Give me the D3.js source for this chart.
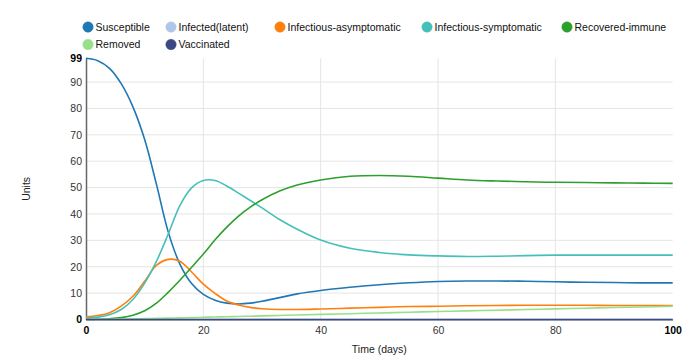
<!DOCTYPE html>
<html><head><meta charset="utf-8">
<script src="https://cdn.jsdelivr.net/npm/d3@7/dist/d3.min.js"></script>
<style>
html,body{margin:0;padding:0;background:#fff;}
svg{display:block;font-family:"Liberation Sans",Arial,sans-serif;}
</style></head>
<body><svg id="chart" width="700" height="364"></svg>
<script>
// ---- data ----
const days = [0,2,4,6,8,10,12,14,16,18,20,22,24,26,28,30,33,36,40,45,50,55,60,65,70,75,80,85,90,95,100];
const seriesNames = ["Susceptible","Infected(latent)","Infectious-asymptomatic","Infectious-symptomatic","Recovered-immune","Removed","Vaccinated"];
const susceptible   = [99,98.1,95.2,89.4,80.6,68.2,51.3,33.3,21.0,13.6,9.5,7.3,6.2,5.9,6.2,6.9,8.3,9.7,11.0,12.2,13.2,13.9,14.4,14.6,14.6,14.5,14.3,14.1,14.0,13.9,13.9];
const latent        = [0,0,0,0,0,0,0,0,0,0,0,0,0,0,0,0,0,0,0,0,0,0,0,0,0,0,0,0,0,0,0];
const asymptomatic  = [1.0,1.5,2.6,5.1,8.8,14.5,20.5,22.8,22.1,18.0,13.4,9.9,7.0,5.5,4.6,4.1,3.8,3.8,4.0,4.3,4.6,4.9,5.0,5.2,5.3,5.4,5.4,5.4,5.3,5.3,5.3];
const symptomatic   = [0.5,0.9,1.8,3.8,7.6,13.8,22.0,32.3,43.2,49.9,52.7,52.7,50.6,47.9,45.1,42.3,37.9,34.2,30.1,27.0,25.4,24.5,24.1,23.9,24.0,24.2,24.4,24.4,24.4,24.4,24.4];
const recovered     = [0,0.1,0.3,0.7,1.6,3.3,6.2,10.3,14.9,19.8,24.8,30.2,35.0,39.2,42.6,45.4,48.7,51.0,52.9,54.3,54.6,54.3,53.6,52.9,52.5,52.2,52.0,51.9,51.8,51.7,51.6];
const removed       = [0,0.05,0.1,0.17,0.25,0.33,0.42,0.52,0.62,0.72,0.83,0.94,1.05,1.15,1.26,1.37,1.53,1.7,1.93,2.2,2.48,2.75,3.02,3.28,3.53,3.78,4.03,4.28,4.52,4.76,5.0];
const vaccinated    = [0,0,0,0,0,0,0,0,0,0,0,0,0,0,0,0,0,0,0,0,0,0,0,0,0,0,0,0,0,0,0];
const seriesColors = ["#1f77b4","#aec7e8","#ff7f0e","#45c0b8","#2ca02c","#98df8a","#3a4884"];
const yTicks = [0,10,20,30,40,50,60,70,80,90,99];
const xTicks = [0,20,40,60,80,100];
const xLabel = "Time (days)";
const yLabel = "Units";

const allValues = [susceptible,latent,asymptomatic,symptomatic,recovered,removed,vaccinated];

// ---- layout ----
const svg = d3.select("#chart");
const L = 86, R = 672.7, T = 58.3, B = 319.5;
const x = d3.scaleLinear().domain([0,100]).range([L,R]);
const y = d3.scaleLinear().domain([0,99]).range([B,T]);
const fs = "10.5px";

// grid
const grid = svg.append("g");
grid.selectAll("line.h").data(yTicks.filter(d=>d>0 && d<99)).join("line")
  .attr("x1",L).attr("x2",R).attr("y1",d=>y(d)).attr("y2",d=>y(d))
  .attr("stroke","#e5e5e5").attr("stroke-width",1);
grid.selectAll("line.v").data(xTicks.filter(d=>d>0 && d<100)).join("line")
  .attr("x1",d=>x(d)).attr("x2",d=>x(d)).attr("y1",T).attr("y2",B)
  .attr("stroke","#e5e5e5").attr("stroke-width",1);

// y axis
const yAxis = svg.append("g").attr("transform",`translate(${L},0)`)
  .call(d3.axisLeft(y).tickValues(yTicks).tickSize(0).tickPadding(4).tickFormat(d3.format("d")));
yAxis.select(".domain").attr("stroke","#666").attr("stroke-width",1.5);
yAxis.selectAll("text").attr("font-size",fs).attr("font-family","Liberation Sans, Arial, sans-serif")
  .attr("font-weight",d=>(d===0||d===99)?"bold":"normal").attr("fill",d=>(d===0||d===99)?"#000":"#333");

// x axis
const xAxis = svg.append("g").attr("transform",`translate(0,${B})`)
  .call(d3.axisBottom(x).tickValues(xTicks).tickSize(0).tickPadding(7).tickFormat(d3.format("d")));
xAxis.select(".domain").attr("stroke","#666").attr("stroke-width",1);
xAxis.selectAll("text").attr("font-size",fs).attr("font-family","Liberation Sans, Arial, sans-serif")
  .attr("font-weight",d=>(d===0||d===100)?"bold":"normal").attr("fill",d=>(d===0||d===100)?"#000":"#333");

// axis labels
svg.append("text").attr("x",(L+R)/2).attr("y",353).attr("text-anchor","middle")
  .attr("font-size",fs).attr("fill","#222").text(xLabel);
svg.append("text").attr("transform",`translate(30,${(T+B)/2}) rotate(-90)`).attr("text-anchor","middle")
  .attr("font-size",fs).attr("fill","#222").text(yLabel);

// lines
const line = d3.line().x(d=>x(d[0])).y(d=>y(d[1])).curve(d3.curveCatmullRom.alpha(0.5));
const lines = svg.append("g");
allValues.forEach((vals,i)=>{
  lines.append("path").datum(days.map((t,j)=>[t,vals[j]]))
    .attr("d",line).attr("fill","none").attr("stroke",seriesColors[i])
    .attr("stroke-width",1.6);
});

// legend
const legendX = [88,171,280,427,567];
const legendRows = [27,44.5];
const legend = svg.append("g");
seriesNames.forEach((name,i)=>{
  const col = i % 5, row = Math.floor(i/5);
  const g = legend.append("g").attr("transform",`translate(${legendX[col]},${legendRows[row]})`);
  g.append("circle").attr("r",5.2).attr("fill",seriesColors[i]).attr("stroke",seriesColors[i]).attr("stroke-width",0.5);
  g.append("text").attr("x",7.5).attr("dy","0.35em").attr("font-size",fs).attr("fill","#111").text(name);
});
</script></body></html>
